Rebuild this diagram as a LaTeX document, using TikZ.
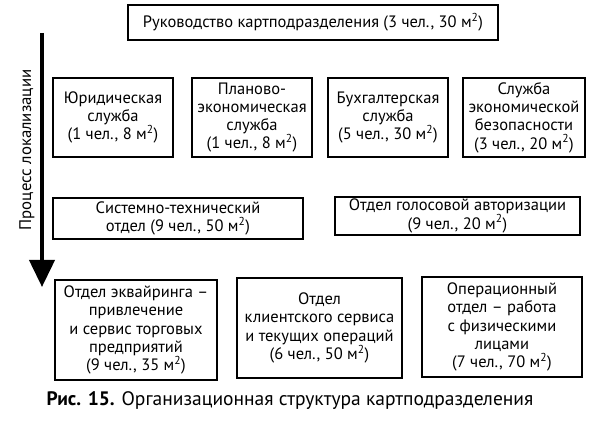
\documentclass[tikz,border=0pt]{standalone}
\usepackage{fontspec}
\setmainfont{PT Sans}
\usetikzlibrary{arrows.meta}

\tikzset{
    unit/.style={draw, line width=1.6pt, align=center, inner sep=1pt,
        font=\fontsize{16.5}{18.3}\selectfont}
}
\newcommand{\msq}{м\textsuperscript{2}}

\begin{document}
\begin{tikzpicture}[x=1pt, y=1pt]
    \useasboundingbox (0,0) rectangle (595,422);

    \node[unit, minimum width=370pt, minimum height=35pt] (head) at (313,399.5)
        {Руководство картподразделения (3 чел., 30 \msq)};

    \node[unit, minimum width=120pt, minimum height=79pt] (legal) at (113,304.5)
        {Юридическая\\служба\\(1 чел., 8 \msq)};
    \node[unit, minimum width=120pt, minimum height=79pt] (plan) at (252,304.5)
        {Планово-\\экономическая\\служба\\(1 чел., 8 \msq)};
    \node[unit, minimum width=120pt, minimum height=79pt] (account) at (388,304.5)
        {Бухгалтерская\\служба\\(5 чел., 30 \msq)};
    \node[unit, minimum width=122pt, minimum height=79pt] (security) at (524,304.5)
        {Служба\\экономической\\безопасности\\(3 чел., 20 \msq)};

    \node[unit, minimum width=250pt, minimum height=41pt] (systech) at (178,203.5)
        {Системно-технический\\отдел (9 чел., 50 \msq)};
    \node[unit, minimum width=245pt, minimum height=38pt] (voice) at (457.5,206)
        {Отдел голосовой авторизации\\(9 чел., 20 \msq)};

    \node[unit, minimum width=162pt, minimum height=100pt] (acquiring) at (136,92)
        {Отдел эквайринга --\\привлечение\\и сервис торговых\\предприятий\\(9 чел., 35 \msq)};
    \node[unit, minimum width=165pt, minimum height=100pt] (client) at (319.5,94)
        {Отдел\\клиентского сервиса\\и текущих операций\\(6 чел., 50 \msq)};
    \node[unit, minimum width=160pt, minimum height=100pt] (oper) at (502,95)
        {Операционный\\отдел -- работа\\с физическими\\лицами\\(7 чел., 70 \msq)};

    \coordinate (start) at (42,389);
    \coordinate (stop) at (42,135);
    \draw[line width=4pt, -{Triangle[width=25pt, length=27pt]}] (start) -- (stop);
    \node[rotate=90, font=\fontsize{16.8}{19}\selectfont] (process) at (27,272)
        {Процесс локализации};

    \node[font=\fontsize{19.5}{22}\selectfont] (caption) at (290,21)
        {\textbf{Рис. 15.} Организационная структура картподразделения};
\end{tikzpicture}
\end{document}
